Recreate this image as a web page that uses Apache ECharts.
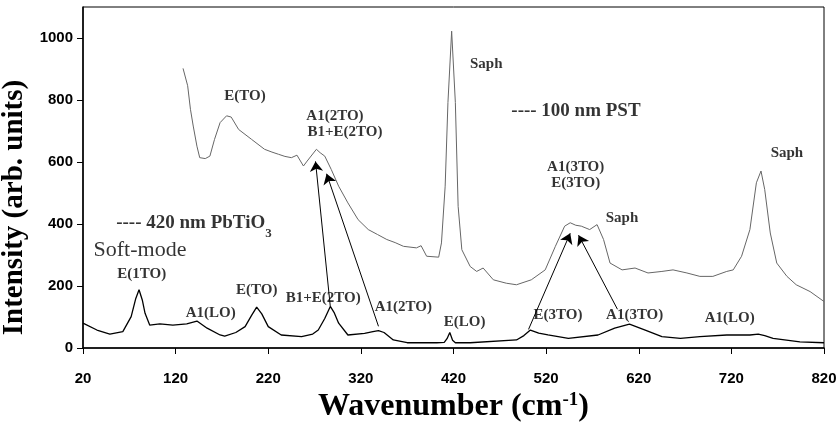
<!DOCTYPE html>
<html>
<head>
<meta charset="utf-8">
<script src="https://cdn.jsdelivr.net/npm/echarts@6/dist/echarts.min.js"></script>
<style>
  html, body { margin: 0; padding: 0; background: #fff; }
  #chart { width: 838px; height: 423px; }
</style>
</head>
<body>
<div id="chart"></div>
<script>
// 420 nm PbTiO3 (black)
const ptoWn = [20, 35, 49, 63, 72, 77, 80.5, 84, 87, 92, 103, 117, 132, 143, 154, 168, 173, 185, 195, 202, 207.5, 213, 220, 234, 256, 268, 274, 281, 287, 291, 296, 306, 324, 333, 339, 345, 355, 370, 402, 410, 413, 416, 419, 422, 438, 488, 496, 503, 512, 522, 544, 576, 594, 610, 627, 645, 665, 686, 715, 740, 749, 756, 765, 794, 820]
const ptoI  = [80, 58, 45, 53, 101, 160, 188, 155, 112, 74, 78, 74, 78, 87, 64, 42, 38, 50, 69, 105, 132, 110, 69, 42, 37, 45, 58, 95, 134, 115, 80, 42, 47, 53, 56, 50, 26, 17, 17, 18, 30, 50, 25, 17, 17, 26, 40, 58, 48, 42, 31, 42, 64, 77, 58, 37, 31, 37, 42, 42, 45, 40, 31, 20, 17]

// 100 nm PST (gray)
const pstWn = [128, 133, 136, 139, 143, 146, 152, 157, 162, 168, 175, 180, 188, 202, 216, 224, 231, 238, 245, 251, 258, 262, 272, 276, 281, 288, 296, 306, 317, 328, 338, 348, 357, 366, 380, 385, 391, 404, 407, 411, 414, 418, 422, 425, 429, 438, 445, 452, 463, 477, 488, 504, 519, 530, 540, 546, 552, 558, 567, 575, 582, 589, 602, 616, 630, 645, 657, 672, 686, 700, 715, 722, 731, 740, 747, 752, 756, 762, 769, 780, 790, 805, 820]
const pstI  = [902, 846, 770, 716, 651, 614, 611, 619, 673, 727, 749, 745, 705, 673, 641, 632, 625, 618, 614, 622, 587, 603, 641, 630, 619, 576, 522, 468, 414, 382, 366, 350, 340, 328, 323, 330, 296, 293, 339, 522, 792, 1022, 792, 457, 317, 263, 247, 258, 220, 209, 204, 220, 252, 328, 393, 404, 396, 393, 382, 398, 350, 274, 252, 258, 242, 247, 252, 242, 231, 231, 247, 252, 296, 382, 533, 571, 511, 371, 274, 231, 204, 182, 150]

const xTicks = [20, 120, 220, 320, 420, 520, 620, 720, 820]
const yTicks = [0, 200, 400, 600, 800, 1000]

// peak labels: position in data units, text, kind
const annoX    = [194.9, 292, 302.8, 455.4, 552.2, 551.9, 551.9, 601.9, 780, 139.8, 81.5, 83.4, 157.9, 207.5, 279.4, 365.8, 432, 532.8, 615.6, 718.2]
const annoY    = [813, 749, 695, 916, 765, 582, 533, 420, 628, 404, 317, 239, 112, 188, 161, 132, 85, 107, 107, 96]
const annoText = ["E(TO)", "A1(2TO)", "B1+E(2TO)", "Saph", "---- 100 nm PST", "A1(3TO)", "E(3TO)", "Saph", "Saph",
    "---- 420 nm PbTiO{sub|3}", "Soft-mode", "E(1TO)", "A1(LO)", "E(TO)", "B1+E(2TO)", "A1(2TO)", "E(LO)", "E(3TO)", "A1(3TO)", "A1(LO)"]
const annoKind = ["peak", "peak", "peak", "peak", "legend", "peak", "peak", "peak", "peak",
    "legend", "soft", "peak", "peak", "peak", "peak", "peak", "peak", "peak", "peak", "peak"]

// arrows from PbTiO3 modes to PST modes
const arrowFrom = [[287, 134], [339, 70], [501, 60], [597, 125]]
const arrowTo   = [[271, 602], [283, 562], [546, 370], [555, 364]]

const zip = (a, b) => a.map((v, i) => [v, b[i]])

const labelStyle = {
    peak: {fontSize: 15, fontWeight: "bold"},
    legend: {fontSize: 19, fontWeight: "bold"},
    soft: {fontSize: 22, fontWeight: "normal"},
}

const chart = echarts.init(document.getElementById("chart"))

const option = {
    animation: false,
    grid: {left: 83, right: 14, top: 7, bottom: 75, outerBoundsMode: "none", show: true, borderColor: "#000", borderWidth: 1},
    xAxis: {
        type: "value", min: 20, max: 820,
        splitLine: {show: false},
        axisLine: {lineStyle: {color: "#000", width: 1.5}},
        axisTick: {customValues: xTicks, length: 6, lineStyle: {color: "#000"}},
        axisLabel: {customValues: xTicks, margin: 23, color: "#000", fontFamily: "Liberation Sans", fontWeight: "bold", fontSize: 15},
        name: "Wavenumber (cm{sup|-1})",
        nameLocation: "middle",
        nameGap: 41,
        nameTextStyle: {
            fontFamily: "Liberation Serif", fontWeight: "bold", fontSize: 32, color: "#000",
            rich: {sup: {fontFamily: "Liberation Serif", fontWeight: "bold", fontSize: 19, verticalAlign: "top", lineHeight: 12, color: "#000"}}
        }
    },
    yAxis: {
        type: "value", min: 0, max: 1100,
        splitLine: {show: false},
        axisLine: {show: true, lineStyle: {color: "#000", width: 1.5}},
        axisTick: {show: true, customValues: yTicks, length: 6, lineStyle: {color: "#000"}},
        axisLabel: {customValues: yTicks, formatter: v => String(v), margin: 10, color: "#000", fontFamily: "Liberation Sans", fontWeight: "bold", fontSize: 15},
        name: "Intensity (arb. units)",
        nameLocation: "middle",
        nameGap: 45,
        nameTextStyle: {fontFamily: "Liberation Serif", fontWeight: "bold", fontSize: 29, color: "#000", padding: [0, 60, 0, 0]}
    },
    series: [
        {
            name: "100 nm PST", type: "line", data: zip(pstWn, pstI),
            showSymbol: false, lineStyle: {color: "#666", width: 1}
        },
        {
            name: "420 nm PbTiO3", type: "line", data: zip(ptoWn, ptoI),
            showSymbol: false, lineStyle: {color: "#000", width: 1.3},
            markLine: {
                silent: true,
                symbol: ["none", "arrow"],
                symbolSize: 10,
                label: {show: false},
                lineStyle: {color: "#000", width: 1, type: "solid"},
                data: arrowFrom.map((p, i) => [{coord: p}, {coord: arrowTo[i]}])
            }
        },
        {
            type: "scatter", symbolSize: 0.1, itemStyle: {color: "transparent"}, silent: true, z: 5,
            data: annoX.map((x, i) => ({
                value: [x, annoY[i]],
                label: {
                    show: true, position: "inside",
                    formatter: annoText[i],
                    color: "#000",
                    fontFamily: "Liberation Serif",
                    ...labelStyle[annoKind[i]],
                    rich: {sub: {fontFamily: "Liberation Serif", fontWeight: "bold", fontSize: 13, verticalAlign: "bottom", lineHeight: 14, padding: [0, 0, -8, 0]}}
                }
            }))
        }
    ]
}

chart.setOption(option)
</script>
</body>
</html>
